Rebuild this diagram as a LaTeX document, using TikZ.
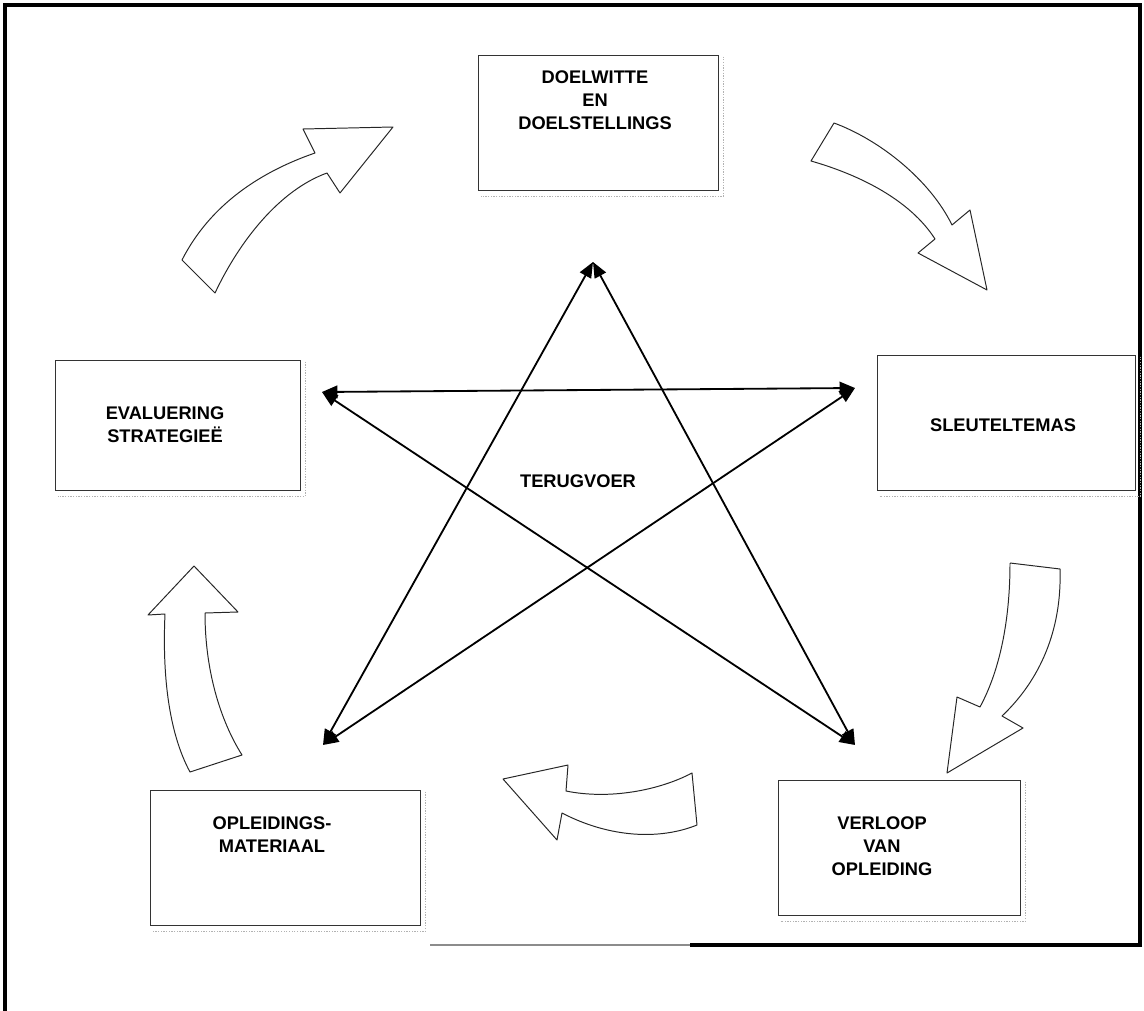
\documentclass[tikz,border=0pt]{standalone}
\usepackage{fontspec}
\setmainfont{Liberation Sans}
\usepackage{tikz}
\usetikzlibrary{calc}
\usetikzlibrary{arrows.meta}

\begin{document}
\begin{tikzpicture}[x=0.025cm, y=-0.025cm,
  stagebox/.style={draw=black!80, line width=0.6pt, inner sep=0pt},
  boxshade/.style={draw=black!30, densely dotted, line width=0.9pt},
  stagetext/.style={font=\bfseries\fontsize{13}{16.5}\selectfont, align=center},
  starline/.style={<->, >={Triangle[length=11pt, width=9pt]}, line width=1.3pt},
  bigarrow/.style={draw=black!85, line width=0.7pt, line join=round},
  frameline/.style={line width=3.5pt}]

\useasboundingbox (0,0) rectangle (1144,1011);

% outer frame
\coordinate (FA) at (5,1011); \coordinate (FB) at (5,5);
\coordinate (FC) at (1140,5); \coordinate (FD) at (1140,945);
\coordinate (FE) at (690,945); \coordinate (FF) at (430,945);
\draw[frameline] (FA) -- (FB) -- (FC) -- (FD) -- (FE);
\draw[black!45, line width=1.5pt] (FE) -- (FF);

% boxes
\node[stagebox, minimum width=6cm, minimum height=3.375cm] (doel) at (598,122.5) {};
\node[stagebox, minimum width=6.45cm, minimum height=3.375cm] (sleutel) at (1006,422.5) {};
\node[stagebox, minimum width=6.125cm, minimum height=3.25cm] (eval) at (177.5,425) {};
\node[stagebox, minimum width=6.05cm, minimum height=3.375cm] (verloop) at (899,847.5) {};
\node[stagebox, minimum width=6.75cm, minimum height=3.375cm] (opl) at (285,857.5) {};
\foreach \b in {doel,sleutel,eval,verloop,opl}
  \draw[boxshade] ([shift={(5,2)}]\b.north east) -- ([shift={(5,6)}]\b.south east)
    -- ([shift={(3,6)}]\b.south west);

\node[stagetext] (doeltext) at (595,100) {DOELWITTE\\EN\\DOELSTELLINGS};
\node[stagetext] (sleuteltext) at (1003,425) {SLEUTELTEMAS};
\node[stagetext] (evaltext) at (165,425) {EVALUERING\\STRATEGIEË};
\node[stagetext] (verlooptext) at (882,846) {VERLOOP\\VAN\\OPLEIDING};
\node[stagetext] (opltext) at (272,835) {OPLEIDINGS-\\MATERIAAL};
\node[stagetext] (terug) at (578,481) {TERUGVOER};

% star
\coordinate (top) at (593,262);
\coordinate (left) at (322,392);
\coordinate (right) at (855,388);
\coordinate (bl) at (323,745);
\coordinate (br) at (855,745);
\draw[starline] (top) -- (bl);
\draw[starline] (top) -- (br);
\draw[starline] (left) -- (right);
\draw[starline] (left) -- (br);
\draw[starline] (right) -- (bl);

% curved block arrows round the cycle
\draw[bigarrow] (182,260) .. controls (210,205) and (260,172) .. (315,153) -- (303,129)
  -- (393,127) -- (340,193) -- (327,173) .. controls (280,190) and (240,240) .. (215,293) -- cycle;
\draw[bigarrow] (834,123) .. controls (880,140) and (930,180) .. (952,225) -- (970,210)
  -- (987,290) -- (918,253) -- (935,239) .. controls (910,200) and (860,175) .. (811,161) -- cycle;
\draw[bigarrow] (1010,563) -- (1060,569) .. controls (1062,630) and (1040,680) .. (1002,716)
  -- (1023,728) -- (947,773) -- (957,697) -- (980,707) .. controls (1000,670) and (1010,620) .. (1010,563);
\draw[bigarrow] (692,773) .. controls (660,790) and (610,800) .. (566,791) -- (568,765)
  -- (503,779) -- (557,840) -- (562,813) .. controls (610,838) and (660,840) .. (697,825) -- cycle;
\draw[bigarrow] (190,772) .. controls (170,735) and (162,680) .. (165,614) -- (148,615)
  -- (194,566) -- (238,612) -- (205,613) .. controls (205,670) and (220,720) .. (242,755) -- cycle;

\end{tikzpicture}
\end{document}
